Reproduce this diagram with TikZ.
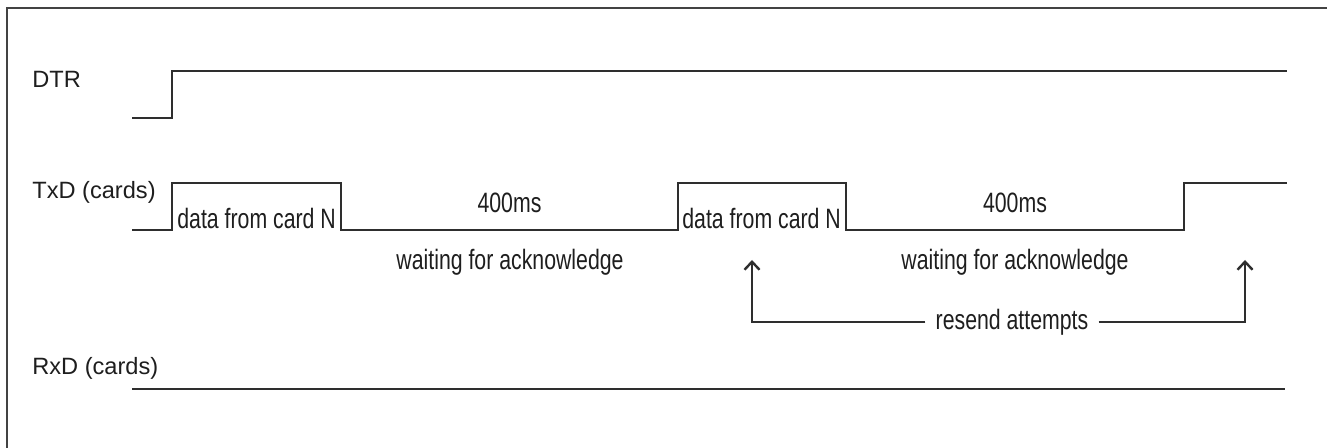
\documentclass[tikz,border=0pt]{standalone}
\usepackage{fontspec}
\setmainfont{Liberation Sans}
\newfontfamily\narrowfont[FakeStretch=0.76]{Liberation Sans}
\usetikzlibrary{arrows.meta}
\definecolor{ink}{HTML}{2E2E2E}
\definecolor{txt}{HTML}{1E1E1E}
\tikzset{
  sig/.style={draw=ink, line width=1.1pt, line join=miter},
  frame/.style={draw=ink!90, line width=1.1pt},
  lbl/.style={anchor=base west, inner sep=0pt, text=txt, font=\fontsize{11.8pt}{13pt}\selectfont},
  note/.style={inner sep=0pt, text=txt, font=\narrowfont\fontsize{14pt}{16pt}\selectfont},
  resendarrow/.style={draw=ink, line width=1.1pt, -{Straight Barb[length=4pt,width=7.5pt,line width=1.2pt]}}
}
\begin{document}
\begin{tikzpicture}[x=0.5pt,y=-0.5pt]
\useasboundingbox (0,0) rectangle (1327,448);
\fill[white] (0,0) rectangle (1327,448);
% frame (left and top only)
\draw[frame] (7,448) -- (7,8) -- (1327,8);

% labels
\node[lbl] (dtr) at (32,88) {DTR};
\node[lbl] (txd) at (32,199) {TxD (cards)};
\node[lbl] (rxd) at (32,375) {RxD (cards)};

% DTR signal
\coordinate (d0) at (132,118);
\coordinate (d1) at (172,118);
\coordinate (d2) at (172,71);
\coordinate (d3) at (1287,71);
\draw[sig] (d0) -- (d1) -- (d2) -- (d3);

% TxD signal
\coordinate (t0) at (132,230);
\coordinate (t1) at (172,230);
\coordinate (t2) at (172,183);
\coordinate (t3) at (341,183);
\coordinate (t4) at (341,230);
\coordinate (t5) at (678,230);
\coordinate (t6) at (678,183);
\coordinate (t7) at (846,183);
\coordinate (t8) at (846,230);
\coordinate (t9) at (1184,230);
\coordinate (t10) at (1184,183);
\coordinate (t11) at (1287,183);
\draw[sig] (t0) -- (t1) -- (t2) -- (t3) -- (t4) -- (t5) -- (t6) -- (t7) -- (t8) -- (t9) -- (t10) -- (t11);

% RxD signal
\coordinate (r0) at (132,389);
\coordinate (r1) at (1285,389);
\draw[sig] (r0) -- (r1);

% annotations
\node[note, anchor=base west] (data1) at (177,229) {data from card N};
\node[note, anchor=base west] (data2) at (682,229) {data from card N};
\node[note, anchor=base] (ms1) at (509.5,213) {400ms};
\node[note, anchor=base] (ms2) at (1015,213) {400ms};
\node[note, anchor=base] (wait1) at (510,270) {waiting for acknowledge};
\node[note, anchor=base] (wait2) at (1015,270) {waiting for acknowledge};

% resend attempts
\node[note, inner xsep=5pt] (resend) at (1012,322) {resend attempts};
\coordinate (tipA) at (752,260);
\coordinate (tipB) at (1245,260);
\draw[resendarrow] (resend.west) -| (tipA);
\draw[resendarrow] (resend.east) -| (tipB);
\end{tikzpicture}
\end{document}
